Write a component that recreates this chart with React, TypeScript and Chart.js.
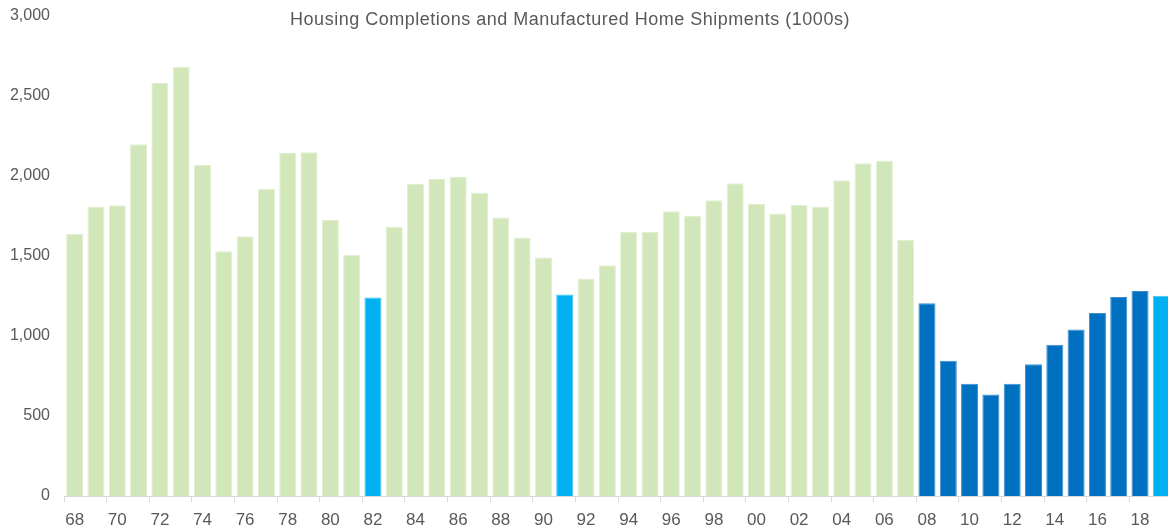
import React, { useEffect, useRef } from "react";
import { Chart, registerables } from "chart.js";

Chart.register(...registerables);

const years: string[] = [
  "68","69","70","71","72","73","74","75","76","77","78","79","80","81","82","83","84","85","86","87",
  "88","89","90","91","92","93","94","95","96","97","98","99","00","01","02","03","04","05","06","07",
  "08","09","10","11","12","13","14","15","16","17","18","19",
];

const completions: number[] = [
  1637, 1810, 1817, 2198, 2581, 2683, 2069, 1529, 1623, 1921, 2144, 2148, 1725, 1508, 1240, 1683, 1950, 1981, 1994, 1896,
  1740, 1615, 1490, 1260, 1360, 1442, 1652, 1652, 1779, 1752, 1848, 1954, 1825, 1766, 1819, 1810, 1973, 2079, 2096, 1600,
  1204, 846, 702, 635, 702, 823, 946, 1040, 1144, 1244, 1281, 1252,
];

// category per bar: g = normal, r = recession (light blue), d = post-2008 (dark blue)
const barKind: string[] = [
  "g","g","g","g","g","g","g","g","g","g","g","g","g","g","r","g","g","g","g","g",
  "g","g","g","r","g","g","g","g","g","g","g","g","g","g","g","g","g","g","g","g",
  "d","d","d","d","d","d","d","d","d","d","d","r",
];

const yTicks: number[] = [0, 500, 1000, 1500, 2000, 2500, 3000];

const chartTitle = "Housing Completions and Manufactured Home Shipments (1000s)";

const fillColors: Record<string, string> = { g: "#d1e7b9", r: "#00b0f0", d: "#0070c0" };
const edgeColors: Record<string, string> = { g: "#e1efd1", r: "#3fc4f3", d: "#3f8fcf" };

export default function App() {
  const ref = useRef<HTMLCanvasElement | null>(null);

  useEffect(() => {
    document.body.style.margin = "0";
    const canvas = ref.current;
    if (!canvas) return;

    const titlePlugin = {
      id: "fixedTitle",
      afterDraw(chart: any) {
        const ctx = chart.ctx;
        ctx.save();
        ctx.font = "18px 'Liberation Sans', Arial, sans-serif";
        try {
          (ctx as any).letterSpacing = "0.5px";
        } catch (e) {}
        ctx.fillStyle = "#595959";
        ctx.textAlign = "center";
        ctx.textBaseline = "middle";
        ctx.fillText(chartTitle, 570, 20);
        ctx.restore();
      },
    };

    const chart = new Chart(canvas, {
      type: "bar",
      data: {
        labels: years,
        datasets: [
          {
            data: completions,
            backgroundColor: barKind.map((k) => fillColors[k]),
            borderColor: barKind.map((k) => edgeColors[k]),
            borderWidth: 1,
            barPercentage: 0.8,
            categoryPercentage: 1,
          },
        ],
      },
      options: {
        responsive: false,
        animation: false,
        devicePixelRatio: 1,
        layout: { padding: { top: 16, left: 0, right: 0, bottom: 0 } },
        plugins: {
          legend: { display: false },
          title: { display: false },
          tooltip: { enabled: false },
        },
        scales: {
          x: {
            type: "category",
            offset: true,
            grid: {
              display: true,
              offset: true,
              drawOnChartArea: false,
              drawTicks: true,
              tickLength: 6,
              color: (c: any) => (c.index % 2 === 0 ? "#d9d9d9" : "rgba(0,0,0,0)"),
            },
            border: { display: true, color: "#d9d9d9", width: 1 },
            ticks: {
              autoSkip: false,
              maxRotation: 0,
              minRotation: 0,
              padding: 8,
              color: "#595959",
              font: { family: "'Liberation Sans', Arial, sans-serif", size: 17 },
              callback: (_v: any, i: number) => (i % 2 === 0 ? years[i] : ""),
            },
            afterFit: (s: any) => {
              s.height = 33;
            },
          },
          y: {
            min: 0,
            max: 3000,
            grid: { display: false, drawTicks: false },
            border: { display: false },
            afterBuildTicks: (s: any) => {
              s.ticks = yTicks.map((v) => ({ value: v }));
            },
            ticks: {
              padding: 14,
              color: "#595959",
              font: { family: "'Liberation Sans', Arial, sans-serif", size: 16 },
              callback: (v: any) => Number(v).toLocaleString("en-US"),
            },
            afterFit: (s: any) => {
              s.width = 64;
              s.paddingTop = 0;
              s.paddingBottom = 0;
            },
          },
        },
      },
      plugins: [titlePlugin],
    });

    return () => chart.destroy();
  }, []);

  return (
    <div style={{ width: 1168, height: 529, overflow: "hidden", position: "relative" }}>
      <canvas ref={ref} width={1172} height={529} style={{ display: "block", width: 1172, height: 529 }} />
    </div>
  );
}
